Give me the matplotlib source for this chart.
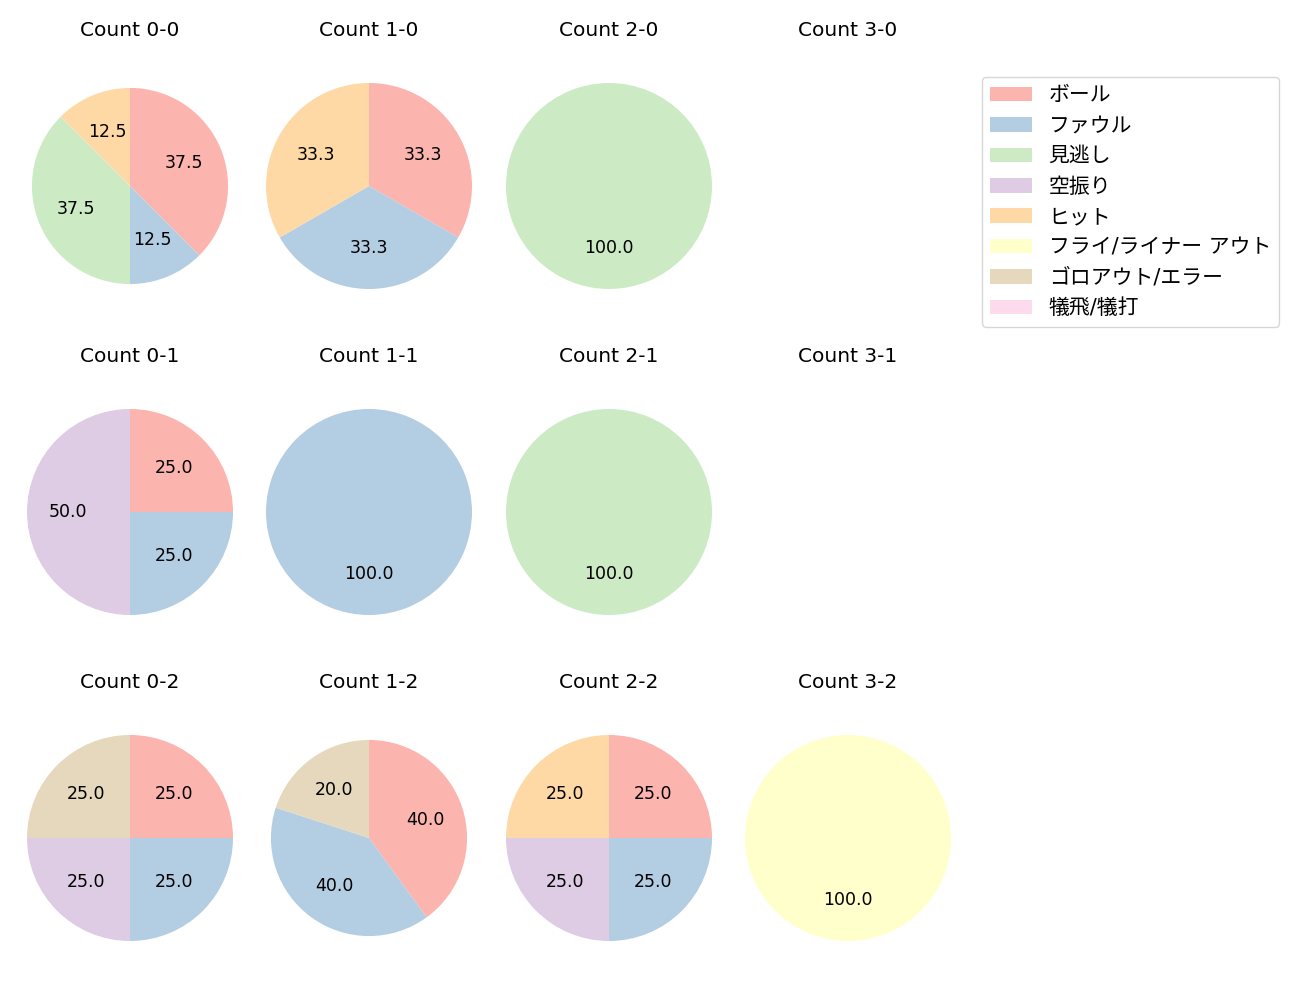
import matplotlib
matplotlib.use("Agg")
import matplotlib.pyplot as plt

plt.rcParams['font.family'] = ['DejaVu Sans', 'Noto Sans CJK JP']

categories = ['ボール', 'ファウル', '見逃し', '空振り', 'ヒット',
              'フライ/ライナー アウト', 'ゴロアウト/エラー', '犠飛/犠打']
colors = ['#fbb4ae', '#b3cde3', '#ccebc5', '#decbe4', '#fed9a6',
          '#ffffcc', '#e5d8bd', '#fddaec']

balls = [0, 1, 2, 3]
strikes = [0, 1, 2]

count_0_0 = [3, 1, 3, 0, 1, 0, 0, 0]
count_1_0 = [1, 1, 0, 0, 1, 0, 0, 0]
count_2_0 = [0, 0, 1, 0, 0, 0, 0, 0]
count_3_0 = [0, 0, 0, 0, 0, 0, 0, 0]
count_0_1 = [1, 1, 0, 2, 0, 0, 0, 0]
count_1_1 = [0, 1, 0, 0, 0, 0, 0, 0]
count_2_1 = [0, 0, 1, 0, 0, 0, 0, 0]
count_3_1 = [0, 0, 0, 0, 0, 0, 0, 0]
count_0_2 = [1, 1, 0, 1, 0, 0, 1, 0]
count_1_2 = [2, 2, 0, 0, 0, 0, 1, 0]
count_2_2 = [1, 1, 0, 1, 1, 0, 0, 0]
count_3_2 = [0, 0, 0, 0, 0, 1, 0, 0]

data = {
    (0, 0): count_0_0, (1, 0): count_1_0, (2, 0): count_2_0, (3, 0): count_3_0,
    (0, 1): count_0_1, (1, 1): count_1_1, (2, 1): count_2_1, (3, 1): count_3_1,
    (0, 2): count_0_2, (1, 2): count_1_2, (2, 2): count_2_2, (3, 2): count_3_2,
}

W, H = 1300, 1000
fig = plt.figure(figsize=(13, 10), dpi=100)

col_cx = [130, 369, 609, 848]
row_cy = [186, 512, 838]
box = 257.5
small = {(0, 0), (1, 2)}

for s in strikes:
    for b in balls:
        cx, cy = col_cx[b], row_cy[s]
        ax = fig.add_axes([(cx - box / 2) / W, 1 - (cy + box / 2) / H, box / W, box / H])
        vals = data[(b, s)]
        total = sum(vals)
        if total > 0:
            v = [x for x in vals if x > 0]
            c = [colors[i] for i, x in enumerate(vals) if x > 0]
            ax.pie(v, colors=c, startangle=90, counterclock=False,
                   autopct='%.1f', radius=0.952 if (b, s) in small else 1.0,
                   textprops={'fontsize': 12.5})
        ax.set_aspect('equal')
        ax.set_xlim(-1.25, 1.25)
        ax.set_ylim(-1.25, 1.25)
        ax.axis('off')
        ax.set_title(f'Count {b}-{s}', fontsize=14.5, pad=15)

handles = [matplotlib.patches.Patch(facecolor=col) for col in colors]
fig.legend(handles, categories, loc='upper left',
           bbox_to_anchor=(982 / W, 1 - 77 / H), fontsize=15, borderaxespad=0)

fig.savefig('out.png', dpi=100)
